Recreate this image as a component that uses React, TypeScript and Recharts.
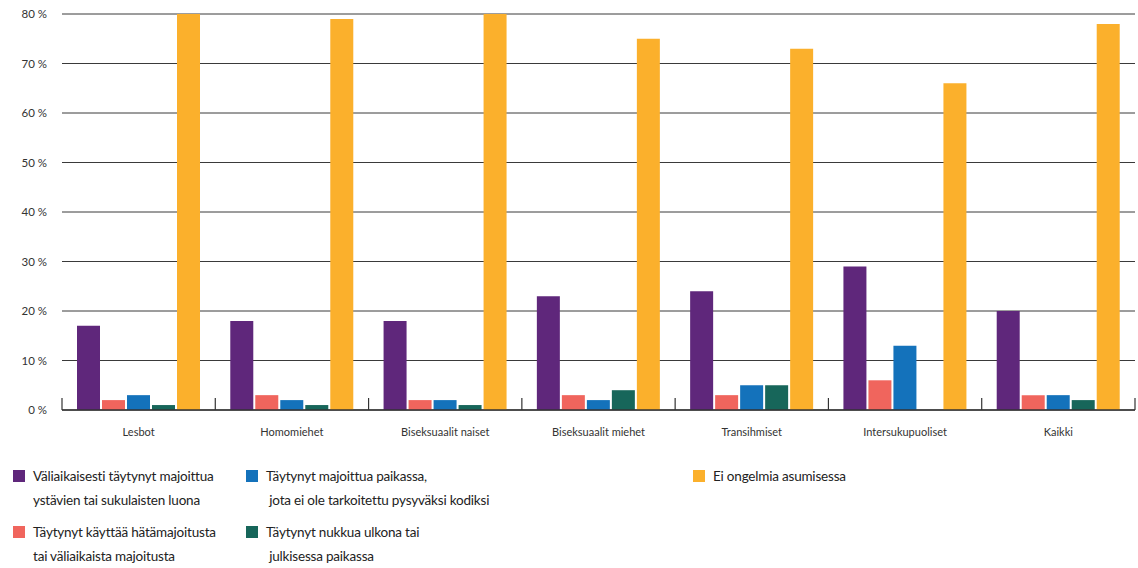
import { BarChart, Bar, XAxis, YAxis, CartesianGrid } from "recharts";

const categories = [
  "Lesbot",
  "Homomiehet",
  "Biseksuaalit naiset",
  "Biseksuaalit miehet",
  "Transihmiset",
  "Intersukupuoliset",
  "Kaikki",
];

const tilapainen = [17, 18, 18, 23, 24, 29, 20];
const hatamajoitus = [2, 3, 2, 3, 3, 6, 3];
const eiKodiksi = [3, 2, 2, 2, 5, 13, 3];
const ulkona = [1, 1, 1, 4, 5, 0, 2];
const eiOngelmia = [80, 79, 80, 75, 73, 66, 78];

const yTicks = [0, 10, 20, 30, 40, 50, 60, 70, 80];

const series = [
  { key: "tilapainen", color: "#5f277b", lines: ["Väliaikaisesti täytynyt majoittua", "ystävien tai sukulaisten luona"] },
  { key: "hatamajoitus", color: "#f0655d", lines: ["Täytynyt käyttää hätämajoitusta", "tai väliaikaista majoitusta"] },
  { key: "eiKodiksi", color: "#1472bb", lines: ["Täytynyt majoittua paikassa,", " jota ei ole tarkoitettu pysyväksi kodiksi"] },
  { key: "ulkona", color: "#17665a", lines: ["Täytynyt nukkua ulkona tai", " julkisessa paikassa"] },
  { key: "eiOngelmia", color: "#fbb02c", lines: ["Ei ongelmia asumisessa"] },
];

const data = categories.map((name, i) => ({
  name,
  tilapainen: tilapainen[i],
  hatamajoitus: hatamajoitus[i],
  eiKodiksi: eiKodiksi[i],
  ulkona: ulkona[i],
  eiOngelmia: eiOngelmia[i],
}));

const FONT = "Lato, 'Noto Sans', sans-serif";
const BAND = (1135 - 62) / categories.length;

function CategoryTick(props: any) {
  const { x, y, payload, index } = props;
  const left = x - BAND / 2;
  const right = x + BAND / 2;
  return (
    <g>
      <line x1={left} x2={left} y1={y - 12} y2={y} stroke="#333" strokeWidth={1.2} />
      {index === categories.length - 1 && (
        <line x1={right} x2={right} y1={y - 12} y2={y} stroke="#333" strokeWidth={1.2} />
      )}
      <text x={x} y={y + 26} textAnchor="middle" fill="#333" fontSize={11} fontFamily={FONT}>
        {payload.value}
      </text>
    </g>
  );
}

// legend placed in three columns like the original report figure
const legendCols = [
  { left: 13, items: [series[0], series[1]] },
  { left: 246, items: [series[2], series[3]] },
  { left: 693, items: [series[4]] },
];

function LegendBlock() {
  return (
    <div
      style={{
        position: "absolute",
        left: 0,
        top: 464,
        width: 1138,
        height: 104,
        fontFamily: FONT,
        fontSize: 13.5,
        letterSpacing: -0.2,
        color: "#222",
      }}
    >
      {legendCols.map((col) =>
        col.items.map((s, r) => (
          <div key={s.key} style={{ position: "absolute", left: col.left, top: r * 56, display: "flex" }}>
            <div style={{ width: 12, height: 12, background: s.color, marginTop: 6, marginRight: 8 }} />
            <div style={{ lineHeight: "24px", whiteSpace: "pre" }}>
              {s.lines.map((l) => (
                <div key={l}>{l}</div>
              ))}
            </div>
          </div>
        ))
      )}
    </div>
  );
}

export default function App() {
  return (
    <div style={{ position: "absolute", left: 0, top: 0, width: 1138, height: 568, background: "#fff" }}>
      <BarChart
        width={1138}
        height={460}
        data={data}
        margin={{ top: 14, right: 3, left: 0, bottom: 20 }}
        barCategoryGap={15}
        barGap={2}
      >
        <CartesianGrid vertical={false} stroke="#3a3a3a" strokeWidth={1} />
        <XAxis
          dataKey="name"
          interval={0}
          tickLine={false}
          tickSize={0}
          tickMargin={0}
          height={30}
          axisLine={{ stroke: "#333", strokeWidth: 1.5 }}
          tick={<CategoryTick />}
        />
        <YAxis
          domain={[0, 80]}
          ticks={yTicks}
          width={62}
          axisLine={false}
          tickLine={false}
          tickSize={0}
          tickMargin={15}
          tickFormatter={(v) => `${v} %`}
          tick={{ fill: "#333", fontSize: 11.5, fontFamily: FONT }}
        />
        {series.map((s) => (
          <Bar key={s.key} dataKey={s.key} fill={s.color} isAnimationActive={false} />
        ))}
      </BarChart>
      <LegendBlock />
    </div>
  );
}
